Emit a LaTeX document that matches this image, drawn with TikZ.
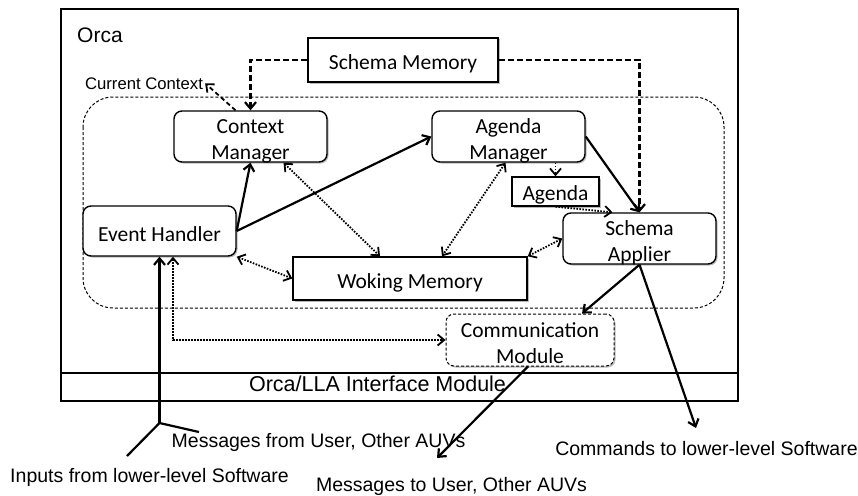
\documentclass[tikz,border=0pt]{standalone}
\usepackage{fontspec}
\setmainfont{Carlito}
\newfontfamily\arialf{Liberation Sans}
\usetikzlibrary{arrows.meta,calc,shadows}
\newcommand\twolines[2]{\begin{tabular}[b]{@{}c@{}}#1\\#2\end{tabular}}
\begin{document}
\begin{tikzpicture}[x=1pt,y=-1pt,
  tip/.style={-{Straight Barb[length=6.5pt,width=11pt]}},
  tips/.style={{Straight Barb[length=6.5pt,width=11pt]}-{Straight Barb[length=6.5pt,width=11pt]}},
  shad/.style={drop shadow={shadow xshift=1.5pt,shadow yshift=-1.5pt,fill=black!60,opacity=0.45}},
  box/.style={draw,line width=1.4pt,fill=white,inner sep=0pt,
    font=\fontsize{21.5}{26}\selectfont,shad,text height=19pt,text depth=0pt},
  rbox/.style={box,rounded corners=8pt},
  two/.style={text height=46pt},
  sol/.style={line width=2.2pt,tip},
  dsh/.style={line width=2.2pt,dash pattern=on 6pt off 3pt,tip},
  dsh2/.style={line width=1.8pt,dash pattern=on 4.5pt off 3pt,tip},
  dot/.style={line width=1.8pt,dash pattern=on 1.6pt off 1.4pt,tips},
  dot1/.style={line width=1.8pt,dash pattern=on 1.6pt off 1.4pt,tip},
  lbl/.style={font=\arialf\fontsize{19.5}{22}\selectfont,inner sep=0pt,anchor=base}
]
\useasboundingbox (0,0) rectangle (858,495);
% outer Orca frame
\draw[line width=1.3pt] (61,9) rectangle (738,401);
\draw[line width=2.2pt] (61,373) -- (738,373);
\node[font=\arialf\fontsize{21}{24}\selectfont,inner sep=0pt,anchor=base west] (orca) at (77,43) {Orca};
\node[font=\arialf\fontsize{21.5}{24}\selectfont,inner sep=0pt,anchor=base] (iface) at (377.5,391.5) {Orca/LLA Interface Module};
% dashed container
\draw[line width=1pt,dash pattern=on 3pt off 2pt,rounded corners=30pt] (83,97) rectangle (724,308);
% nodes
\node[box,minimum width=190pt,minimum height=44pt] (sm) at (403,60) {Schema Memory};
\node[rbox,two,minimum width=153pt,minimum height=51pt] (cm) at (250.5,136.5) {\twolines{Context}{Manager}};
\node[rbox,two,minimum width=153pt,minimum height=51pt] (am) at (508.5,136.5) {\twolines{Agenda}{Manager}};
\node[box,text height=17pt,minimum width=87pt,minimum height=29pt] (ag) at (555.5,191.5) {Agenda};
\node[rbox,two,minimum width=153pt,minimum height=51pt] (sa) at (639.5,238.5) {\twolines{Schema}{Applier}};
\node[rbox,text height=20pt,minimum width=153pt,minimum height=50pt] (eh) at (159.5,231) {Event Handler};
\node[box,minimum width=234pt,minimum height=43pt] (wm) at (410,278.5) {Woking Memory};
\node[rbox,two,dash pattern=on 3pt off 2pt,line width=1pt,minimum width=168pt,minimum height=52pt] (com) at (530,340) {\twolines{Communication}{Module}};
% labels
\node[font=\arialf\fontsize{16.7}{19}\selectfont,inner sep=0pt,anchor=base] (ctx) at (144,89) {Current Context};
\node[lbl] (inl) at (149.5,482) {Inputs from lower-level Software};
\node[lbl] (mfl) at (318.5,447) {Messages from User, Other AUVs};
\node[lbl] (mtl) at (451.5,491) {Messages to User, Other AUVs};
\node[lbl] (cml) at (706.5,455) {Commands to lower-level Software};
% free-end coordinates
\coordinate (j) at (159.5,423);
\coordinate (in1) at (127,456);
\coordinate (in2) at (199,432);
\coordinate (cmd) at (696,428);
\coordinate (mto) at (437,458);
% connectors
\draw[dsh] (sm.west) -| (cm.north);
\draw[dsh] (sm.east) -| (sa.north);
\draw[dsh2] ($(cm.north)+(-15,0)$) -- ($(ctx.east)+(2,0)$);
\draw[sol] (eh.east) -- (cm.south);
\draw[sol] (eh.east) -- (am.west);
\draw[sol] (am.east) -- (sa.north);
\draw[dot1] (ag.north |- am.south) -- (ag.north);
\draw[dot1] (ag.south) -- ($(sa.north)+(-27,0)$);
\draw[dot] ($(cm.south)+(33,0)$) -- ($(wm.north)+(-30,0)$);
\draw[dot] ($(am.south)+(-3,0)$) -- ($(wm.north)+(32,0)$);
\draw[dot] (sa.west) -- (wm.north east);
\draw[dot] (eh.south east) -- (wm.west);
\draw[dot] ($(eh.south)+(13.5,0)$) |- (com.west);
\draw[sol] (j) -- (eh.south);
\draw[line width=2.2pt] (j) -- (in1);
\draw[line width=2.2pt] (j) -- (in2);
\draw[sol] (sa.south) -- ($(com.north)+(52,0)$);
\draw[sol] (sa.south) -- (cmd);
\draw[sol] ($(com.south)+(-2,0)$) -- (mto);
\end{tikzpicture}
\end{document}
